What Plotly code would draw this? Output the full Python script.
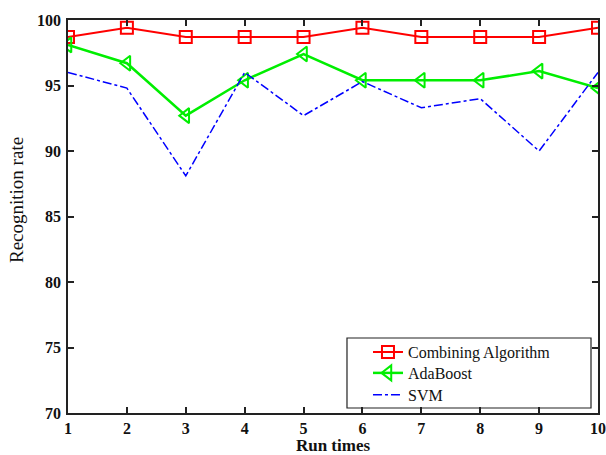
import plotly.graph_objects as go

run_times = [1, 2, 3, 4, 5, 6, 7, 8, 9, 10]
combining = [98.7, 99.4, 98.7, 98.7, 98.7, 99.4, 98.7, 98.7, 98.7, 99.4]
adaboost = [98.1, 96.7, 92.7, 95.4, 97.4, 95.4, 95.4, 95.4, 96.1, 94.8]
svm = [96.0, 94.8, 88.1, 96.0, 92.7, 95.3, 93.3, 94.0, 90.0, 96.0]
y_ticks = [70, 75, 80, 85, 90, 95, 100]

serif = "Liberation Serif, Times New Roman, serif"

fig = go.Figure()
fig.add_trace(go.Scatter(
    x=run_times, y=combining, name="Combining Algorithm", mode="lines+markers",
    line=dict(color="#ff0000", width=2), legend="legend",
    marker=dict(symbol="square-open", size=12, color="#ff0000", line=dict(width=2)),
))
fig.add_trace(go.Scatter(
    x=run_times, y=adaboost, name="AdaBoost", mode="lines+markers",
    line=dict(color="#00ee00", width=2.5), legend="legend2",
    marker=dict(symbol="triangle-left-open", size=13, color="#00ee00", line=dict(width=2)),
))
fig.add_trace(go.Scatter(
    x=run_times, y=svm, name="SVM", mode="lines",
    line=dict(color="#0000ff", width=1.5, dash="dashdot"), legend="legend3",
))

axis_common = dict(
    showgrid=False, zeroline=False, showline=True, linecolor="#222", linewidth=1.5,
    mirror="ticks", ticks="inside", ticklen=6, tickcolor="#222", tickwidth=1.5,
    automargin=False,
    tickfont=dict(family=serif, size=16, color="#111", weight="bold"),
)

legend_common = dict(x=0.566, xanchor="left", yanchor="middle",
                     borderwidth=0, bgcolor="rgba(0,0,0,0)",
                     font=dict(family=serif, size=16, color="#111"))

fig.update_layout(
    width=606, height=455,
    margin=dict(l=68, r=8, t=20, b=42),
    paper_bgcolor="white", plot_bgcolor="white",
    xaxis=dict(range=[1, 10], tickvals=run_times, ticklabelstandoff=0, **axis_common,
               title=dict(text="Run times", standoff=6,
                          font=dict(family=serif, size=17, color="#111", weight="bold"))),
    yaxis=dict(range=[70, 100], tickvals=y_ticks, ticklabelstandoff=2, **axis_common),
    legend=dict(y=0.155, **legend_common),
    legend2=dict(y=0.1018, **legend_common),
    legend3=dict(y=0.046, **legend_common),
    annotations=[dict(text="Recognition rate", xref="paper", yref="paper",
                      x=-0.0962, y=0.542, xanchor="center", yanchor="middle",
                      textangle=-90, showarrow=False,
                      font=dict(family=serif, size=19, color="#111"))],
    shapes=[dict(type="rect", xref="paper", yref="paper",
                 x0=0.5264, x1=0.9868, y0=0.0127, y1=0.1908,
                 line=dict(color="#222", width=1.2), fillcolor="white", layer="below")],
    showlegend=True,
)

fig.write_html("out.html")
